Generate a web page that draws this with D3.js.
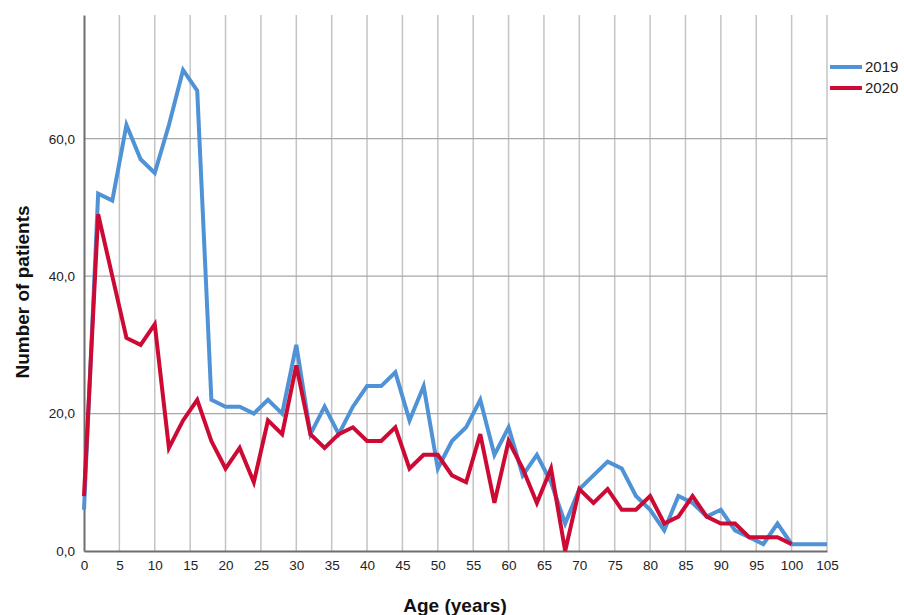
<!DOCTYPE html>
<html>
<head>
<meta charset="utf-8">
<script src="https://cdn.jsdelivr.net/npm/d3@7"></script>
<style>
  body { margin: 0; background: #fff; }
  svg { display: block; font-family: "Liberation Sans", Arial, sans-serif; }
</style>
</head>
<body>
<svg id="chart" width="904" height="615"></svg>
<script>
// ---- data ----
const ages2019 = [0, 2, 4, 6, 8, 10, 12, 14, 16, 18, 20, 22, 24, 26, 28, 30, 32, 34, 36, 38, 40, 42, 44, 46, 48, 50,
  52, 54, 56, 58, 60, 62, 64, 66, 68, 70, 72, 74, 76, 78, 80, 82, 84, 86, 88, 90, 92, 94, 96, 98, 100, 102, 104, 105];
const patients2019 = [6, 52, 51, 62, 57, 55, 62, 70, 67, 22, 21, 21, 20, 22, 20, 30, 17, 21, 17, 21, 24, 24, 26, 19, 24, 12,
  16, 18, 22, 14, 18, 11, 14, 10, 4, 9, 11, 13, 12, 8, 6, 3, 8, 7, 5, 6, 3, 2, 1, 4, 1, 1, 1, 1];

const ages2020 = [0, 2, 4, 6, 8, 10, 12, 14, 16, 18, 20, 22, 24, 26, 28, 30, 32, 34, 36, 38, 40, 42, 44, 46, 48, 50,
  52, 54, 56, 58, 60, 62, 64, 66, 68, 70, 72, 74, 76, 78, 80, 82, 84, 86, 88, 90, 92, 94, 96, 98, 100];
const patients2020 = [8, 49, 40, 31, 30, 33, 15, 19, 22, 16, 12, 15, 10, 19, 17, 27, 17, 15, 17, 18, 16, 16, 18, 12, 14, 14,
  11, 10, 17, 7, 16, 12, 7, 12, 0, 9, 7, 9, 6, 6, 8, 4, 5, 8, 5, 4, 4, 2, 2, 2, 1];

const xTicks = d3.range(0, 106, 5);
const yTicks = [0, 20, 40, 60];

const series = [
  { name: "2019", ages: ages2019, values: patients2019, color: "#4f92d6" },
  { name: "2020", ages: ages2020, values: patients2020, color: "#cc0a34" }
];

// ---- layout ----
const svg = d3.select("#chart");
const m = { top: 15, right: 77, bottom: 64, left: 84 };
const W = 904, H = 615;
const w = W - m.left - m.right, h = H - m.top - m.bottom;

const x = d3.scaleLinear().domain([0, 105]).range([0, w]);
const y = d3.scaleLinear().domain([0, 78]).range([h, 0]);

const g = svg.append("g").attr("transform", `translate(${m.left},${m.top})`);

// vertical grid lines
g.append("g")
  .selectAll("line").data(xTicks.filter(d => d > 0)).enter().append("line")
  .attr("x1", d => x(d)).attr("x2", d => x(d))
  .attr("y1", 0).attr("y2", h)
  .attr("stroke", "#c4c4c4").attr("stroke-width", 1.5);

// horizontal grid lines
g.append("g")
  .selectAll("line").data(yTicks.filter(d => d > 0)).enter().append("line")
  .attr("x1", 0).attr("x2", w)
  .attr("y1", d => y(d)).attr("y2", d => y(d))
  .attr("stroke", "#a8a8a8").attr("stroke-width", 1.2);

// axes
const xAxis = g.append("g").attr("transform", `translate(0,${h})`)
  .call(d3.axisBottom(x).tickValues(xTicks).tickSize(0).tickPadding(9).tickFormat(d3.format("d")));
const yAxis = g.append("g")
  .call(d3.axisLeft(y).tickValues(yTicks).tickSize(0).tickPadding(9).tickFormat(d => d3.format(".1f")(d).replace(".", ",")));

[xAxis, yAxis].forEach(a => {
  a.select(".domain").attr("stroke", "#6e6e6e").attr("stroke-width", 2);
  a.selectAll("text").attr("fill", "#222").style("font-size", "13.5px");
});

// lines
const line = d3.line().x(d => x(d[0])).y(d => y(d[1]));
series.forEach(s => {
  g.append("path")
    .datum(s.ages.map((a, i) => [a, s.values[i]]))
    .attr("fill", "none").attr("stroke", s.color)
    .attr("stroke-width", 4).attr("stroke-linejoin", "miter")
    .attr("d", line);
});

// legend
const leg = svg.append("g").attr("transform", "translate(830,67)");
series.forEach((s, i) => {
  const row = leg.append("g").attr("transform", `translate(0,${i * 21})`);
  row.append("line").attr("x1", 0).attr("x2", 32).attr("y1", 0).attr("y2", 0)
    .attr("stroke", s.color).attr("stroke-width", 4);
  row.append("text").attr("x", 35).attr("y", 0).attr("dy", "0.36em")
    .style("font-size", "15px").attr("fill", "#222").text(s.name);
});

// axis titles
svg.append("text")
  .attr("transform", `translate(29,${m.top + h / 2 + 9}) rotate(-90)`)
  .attr("text-anchor", "middle")
  .style("font-size", "19px").style("font-weight", "bold").attr("fill", "#111")
  .text("Number of patients");

svg.append("text")
  .attr("x", 455).attr("y", 612)
  .attr("text-anchor", "middle")
  .style("font-size", "19px").style("font-weight", "bold").attr("fill", "#111")
  .text("Age (years)");
</script>
</body>
</html>
